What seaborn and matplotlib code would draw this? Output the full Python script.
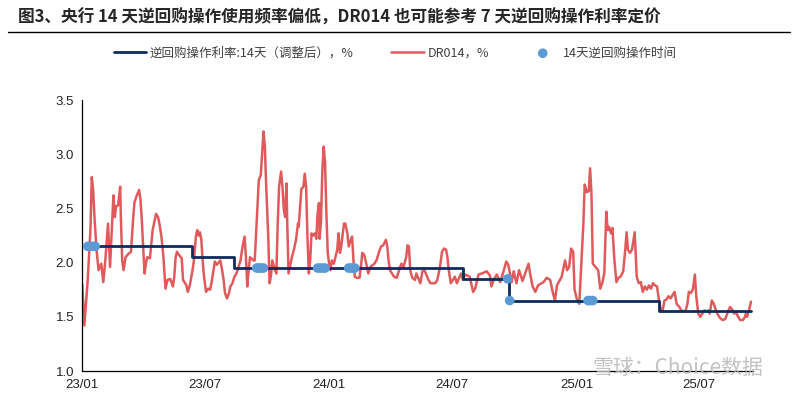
import pandas as pd
import matplotlib.pyplot as plt
import matplotlib.dates as mdates
from matplotlib.lines import Line2D
import seaborn as sns

# DR014 daily rate, split by year
dr_dates_2023 = [
    "2023-01-01", "2023-01-04", "2023-01-09", "2023-01-13", "2023-01-15", "2023-01-17", "2023-01-19", "2023-01-22", "2023-01-25", "2023-01-29",
    "2023-02-01", "2023-02-04", "2023-02-08", "2023-02-11", "2023-02-16", "2023-02-18", "2023-02-20", "2023-02-23", "2023-02-26", "2023-02-27",
    "2023-03-01", "2023-03-03", "2023-03-06", "2023-03-10", "2023-03-14", "2023-03-17", "2023-03-19", "2023-03-22", "2023-03-26", "2023-03-28",
    "2023-03-30", "2023-04-01", "2023-04-03", "2023-04-05", "2023-04-07", "2023-04-11", "2023-04-15", "2023-04-17", "2023-04-20", "2023-04-23",
    "2023-04-25", "2023-04-28", "2023-05-01", "2023-05-04", "2023-05-07", "2023-05-11", "2023-05-15", "2023-05-17", "2023-05-19", "2023-05-21",
    "2023-05-24", "2023-05-28", "2023-05-30", "2023-06-04", "2023-06-06", "2023-06-09", "2023-06-13", "2023-06-15", "2023-06-18", "2023-06-20",
    "2023-06-22", "2023-06-24", "2023-06-26", "2023-06-28", "2023-06-30", "2023-07-03", "2023-07-06", "2023-07-09", "2023-07-11", "2023-07-14",
    "2023-07-16", "2023-07-19", "2023-07-24", "2023-07-26", "2023-07-29", "2023-07-31", "2023-08-03", "2023-08-06", "2023-08-08", "2023-08-11",
    "2023-08-14", "2023-08-17", "2023-08-20", "2023-08-23", "2023-08-26", "2023-08-29", "2023-08-31", "2023-09-02", "2023-09-04", "2023-09-06",
    "2023-09-11", "2023-09-13", "2023-09-16", "2023-09-19", "2023-09-22", "2023-09-24", "2023-09-26", "2023-09-28", "2023-09-30", "2023-10-03",
    "2023-10-05", "2023-10-07", "2023-10-09", "2023-10-13", "2023-10-15", "2023-10-17", "2023-10-19", "2023-10-22", "2023-10-24", "2023-10-26",
    "2023-10-28", "2023-10-30", "2023-10-31", "2023-11-02", "2023-11-07", "2023-11-10", "2023-11-13", "2023-11-16", "2023-11-17", "2023-11-21",
    "2023-11-24", "2023-11-26", "2023-11-28", "2023-11-30", "2023-12-02", "2023-12-04", "2023-12-06", "2023-12-08", "2023-12-11", "2023-12-13",
    "2023-12-15", "2023-12-17", "2023-12-18", "2023-12-20", "2023-12-22", "2023-12-24", "2023-12-26", "2023-12-28", "2023-12-30",
]
dr_2023 = [
    1.80, 1.42, 1.84, 2.30, 2.79, 2.67, 2.42, 2.12, 1.93, 1.99,
    1.82, 2.02, 2.36, 1.96, 2.62, 2.42, 2.52, 2.53, 2.70, 2.42,
    2.02, 1.93, 2.05, 2.08, 2.10, 2.39, 2.55, 2.61, 2.67, 2.58,
    2.39, 2.15, 1.90, 1.99, 2.05, 2.04, 2.30, 2.36, 2.45, 2.42,
    2.36, 2.24, 2.05, 1.76, 1.84, 1.85, 1.78, 1.87, 2.05, 2.10,
    2.07, 2.04, 1.84, 1.79, 1.73, 1.79, 1.93, 2.02, 2.24, 2.30,
    2.25, 2.28, 2.21, 2.02, 1.87, 1.73, 1.76, 1.75, 1.81, 1.93,
    2.01, 1.98, 2.02, 1.96, 1.84, 1.72, 1.67, 1.72, 1.78, 1.81,
    1.87, 1.90, 1.96, 2.02, 2.15, 2.24, 2.05, 1.78, 1.93, 2.05,
    2.02, 2.02, 2.39, 2.76, 2.81, 3.01, 3.21, 3.07, 2.70, 2.24,
    1.81, 1.88, 2.02, 1.93, 1.90, 2.36, 2.70, 2.84, 2.70, 2.49,
    2.42, 2.73, 2.39, 1.90, 2.05, 2.12, 2.21, 2.36, 2.33, 2.68,
    2.70, 2.82, 2.70, 2.24, 1.90, 2.02, 2.27, 2.25, 2.27, 2.22,
    2.45, 2.55, 2.22, 2.39, 2.85, 3.07, 2.92, 2.45, 2.09,
]

dr_dates_2024 = [
    "2024-01-01", "2024-01-03", "2024-01-05", "2024-01-08", "2024-01-13", "2024-01-15", "2024-01-17", "2024-01-19", "2024-01-23", "2024-01-25",
    "2024-01-28", "2024-01-30", "2024-02-02", "2024-02-04", "2024-02-06", "2024-02-08", "2024-02-11", "2024-02-15", "2024-02-18", "2024-02-19",
    "2024-02-22", "2024-02-25", "2024-02-28", "2024-03-02", "2024-03-08", "2024-03-11", "2024-03-16", "2024-03-18", "2024-03-21", "2024-03-25",
    "2024-03-27", "2024-03-29", "2024-03-31", "2024-04-03", "2024-04-06", "2024-04-10", "2024-04-15", "2024-04-17", "2024-04-20", "2024-04-24",
    "2024-04-26", "2024-04-28", "2024-04-30", "2024-05-03", "2024-05-07", "2024-05-09", "2024-05-15", "2024-05-18", "2024-05-21", "2024-05-27",
    "2024-05-30", "2024-06-06", "2024-06-09", "2024-06-13", "2024-06-16", "2024-06-19", "2024-06-22", "2024-06-24", "2024-06-26", "2024-06-29",
    "2024-07-05", "2024-07-08", "2024-07-14", "2024-07-17", "2024-07-20", "2024-07-27", "2024-08-01", "2024-08-04", "2024-08-09", "2024-08-14",
    "2024-08-21", "2024-08-26", "2024-08-28", "2024-09-01", "2024-09-05", "2024-09-10", "2024-09-15", "2024-09-19", "2024-09-22", "2024-09-27",
    "2024-09-30", "2024-10-04", "2024-10-08", "2024-10-13", "2024-10-17", "2024-10-22", "2024-10-24", "2024-10-28", "2024-11-01", "2024-11-05",
    "2024-11-13", "2024-11-18", "2024-11-23", "2024-11-27", "2024-11-30", "2024-12-03", "2024-12-10", "2024-12-15", "2024-12-18", "2024-12-21",
    "2024-12-24", "2024-12-27", "2024-12-29",
]
dr_2024 = [
    1.99, 1.93, 2.02, 1.99, 2.12, 2.27, 2.09, 2.15, 2.36, 2.36,
    2.27, 2.15, 2.21, 2.24, 2.02, 1.87, 1.86, 1.86, 2.02, 2.09,
    2.07, 1.99, 1.90, 1.96, 1.99, 2.02, 2.12, 2.15, 2.16, 2.21,
    2.15, 2.02, 1.93, 1.90, 1.87, 1.86, 1.96, 1.99, 1.96, 2.05,
    2.16, 2.15, 1.93, 1.86, 1.84, 1.90, 1.81, 1.92, 1.93, 1.84,
    1.81, 1.81, 1.84, 1.96, 2.10, 2.13, 2.12, 2.05, 1.93, 1.81,
    1.87, 1.81, 1.90, 1.84, 1.89, 1.87, 1.73, 1.76, 1.89, 1.90,
    1.92, 1.88, 1.78, 1.85, 1.89, 1.82, 1.92, 2.01, 1.98, 1.82,
    1.92, 1.81, 1.93, 1.83, 1.90, 1.99, 1.91, 1.78, 1.73, 1.79,
    1.82, 1.86, 1.84, 1.72, 1.65, 1.79, 1.87, 2.02, 1.93, 1.96,
    2.13, 2.10, 1.75,
]

dr_dates_2025 = [
    "2025-01-02", "2025-01-05", "2025-01-08", "2025-01-11", "2025-01-13", "2025-01-16", "2025-01-19", "2025-01-21", "2025-01-23", "2025-01-25",
    "2025-01-29", "2025-02-02", "2025-02-05", "2025-02-08", "2025-02-11", "2025-02-12", "2025-02-14", "2025-02-16", "2025-02-18", "2025-02-21",
    "2025-02-23", "2025-02-26", "2025-03-01", "2025-03-04", "2025-03-07", "2025-03-11", "2025-03-14", "2025-03-16", "2025-03-18", "2025-03-21",
    "2025-03-24", "2025-03-28", "2025-03-31", "2025-04-03", "2025-04-06", "2025-04-09", "2025-04-12", "2025-04-15", "2025-04-18", "2025-04-21",
    "2025-04-24", "2025-04-27", "2025-04-30", "2025-05-02", "2025-05-05", "2025-05-08", "2025-05-11", "2025-05-14", "2025-05-17", "2025-05-20",
    "2025-05-23", "2025-05-26", "2025-05-29", "2025-06-02", "2025-06-05", "2025-06-08", "2025-06-11", "2025-06-14", "2025-06-16", "2025-06-19",
    "2025-06-22", "2025-06-25", "2025-06-27", "2025-06-30", "2025-07-03", "2025-07-06", "2025-07-09", "2025-07-12", "2025-07-15", "2025-07-17",
    "2025-07-20", "2025-07-23", "2025-07-26", "2025-07-29", "2025-08-01", "2025-08-05", "2025-08-09", "2025-08-13", "2025-08-16", "2025-08-19",
    "2025-08-22", "2025-08-25", "2025-08-28", "2025-08-31", "2025-09-04", "2025-09-07", "2025-09-09", "2025-09-10", "2025-09-13", "2025-09-16",
]
dr_2025 = [
    1.65, 1.62, 1.99, 2.35, 2.72, 2.65, 2.66, 2.87, 2.64, 1.99,
    1.96, 1.93, 1.76, 1.81, 1.90, 2.09, 2.47, 2.30, 2.33, 2.27,
    2.32, 2.02, 1.82, 1.86, 1.87, 1.92, 2.12, 2.28, 2.12, 2.09,
    2.12, 2.28, 1.87, 1.81, 1.82, 1.73, 1.78, 1.75, 1.79, 1.76,
    1.81, 1.79, 1.78, 1.69, 1.58, 1.55, 1.65, 1.66, 1.69, 1.67,
    1.70, 1.73, 1.62, 1.59, 1.56, 1.55, 1.55, 1.62, 1.73, 1.72,
    1.75, 1.89, 1.69, 1.53, 1.50, 1.53, 1.56, 1.55, 1.56, 1.53,
    1.65, 1.62, 1.56, 1.52, 1.49, 1.47, 1.48, 1.55, 1.59, 1.57,
    1.53, 1.54, 1.50, 1.47, 1.47, 1.50, 1.54, 1.50, 1.56, 1.64,
]

# 14-day reverse repo rate (adjusted), step changes
rate_dates = ["2023-01-03", "2023-06-12", "2023-08-14", "2024-07-17", "2024-09-23", "2025-05-03", "2025-09-16"]
rate_levels = [2.15, 2.05, 1.95, 1.85, 1.65, 1.55, 1.55]

# dates of 14-day reverse repo operations
op_dates = ["2023-01-09", "2023-01-13", "2023-01-17", "2023-01-20",
            "2023-09-16", "2023-09-19", "2023-09-22", "2023-09-26",
            "2023-12-15", "2023-12-19", "2023-12-23", "2023-12-26",
            "2024-01-30", "2024-02-02", "2024-02-05", "2024-02-08",
            "2024-09-21", "2024-09-24",
            "2025-01-18", "2025-01-21", "2025-01-25"]
op_levels = [2.15, 2.15, 2.15, 2.15,
             1.95, 1.95, 1.95, 1.95,
             1.95, 1.95, 1.95, 1.95,
             1.95, 1.95, 1.95, 1.95,
             1.85, 1.65,
             1.65, 1.65, 1.65]

title = "图3、央行 14 天逆回购操作使用频率偏低，DR014 也可能参考 7 天逆回购操作利率定价"
label_rate = "逆回购操作利率:14天（调整后），%"
label_dr = "DR014，%"
label_ops = "14天逆回购操作时间"

sns.set_style("white")
plt.rcParams['font.family'] = ['Noto Sans CJK SC', 'DejaVu Sans']

dr = pd.DataFrame({
    "date": pd.to_datetime(dr_dates_2023 + dr_dates_2024 + dr_dates_2025),
    "value": dr_2023 + dr_2024 + dr_2025,
})
rate = pd.DataFrame({"date": pd.to_datetime(rate_dates), "value": rate_levels})
ops = pd.DataFrame({"date": pd.to_datetime(op_dates), "value": op_levels})

fig = plt.figure(figsize=(8, 3.98), dpi=100)
ax = fig.add_axes([0.1029, 0.0678, 0.8384, 0.6809])

sns.lineplot(data=rate, x="date", y="value", ax=ax, color="#0d2b5e", linewidth=2.0,
             drawstyle="steps-post", label=label_rate, zorder=3)
sns.lineplot(data=dr, x="date", y="value", ax=ax, color="#e05a5c", linewidth=1.8,
             label=label_dr, zorder=2)
sns.scatterplot(data=ops, x="date", y="value", ax=ax, color="#5b9bd5", s=48,
                edgecolor="none", label=label_ops, zorder=4)

handles, labels = ax.get_legend_handles_labels()
ax.get_legend().remove()
fig.legend(handles, labels, loc="center", bbox_to_anchor=(0.494, 1 - 53 / 398), ncol=3,
           frameon=False, fontsize=9, handlelength=2.6, columnspacing=3.0,
           handletextpad=0.3, labelcolor="#404040")

ax.set_ylim(1.0, 3.5)
ax.set_yticks([1.0, 1.5, 2.0, 2.5, 3.0, 3.5])
ax.set_yticklabels([f"{v:.1f}" for v in [1.0, 1.5, 2.0, 2.5, 3.0, 3.5]])
ax.set_xlim(pd.Timestamp("2023-01-01"), pd.Timestamp("2025-09-19"))
ax.xaxis.set_major_locator(mdates.MonthLocator(bymonth=[1, 7]))
ax.xaxis.set_major_formatter(mdates.DateFormatter("%y/%m"))
ax.set_xlabel("")
ax.set_ylabel("")

for side in ["top", "right"]:
    ax.spines[side].set_visible(False)
for side in ["left", "bottom"]:
    ax.spines[side].set_color("black")
    ax.spines[side].set_linewidth(0.9)
ax.tick_params(axis="both", direction="out", length=4, width=0.9, color="black",
               labelsize=9.5, labelcolor="#222222", pad=2)
for lbl in ax.get_xticklabels() + ax.get_yticklabels():
    lbl.set_family("Liberation Sans")

# title and rule under it
fig.text(18 / 800, 1 - 18 / 398, title, fontsize=12, fontweight="bold", va="center", ha="left")
fig.add_artist(Line2D([8 / 800, 790 / 800], [1 - 31.7 / 398] * 2, color="black", linewidth=1.0))

# site watermark
fig.text(592 / 800, 1 - 368 / 398, "雪球：Choice数据", fontsize=15, color="#b8b8b8",
         alpha=0.85, va="center", ha="left")

fig.savefig("out.png", dpi=100)
